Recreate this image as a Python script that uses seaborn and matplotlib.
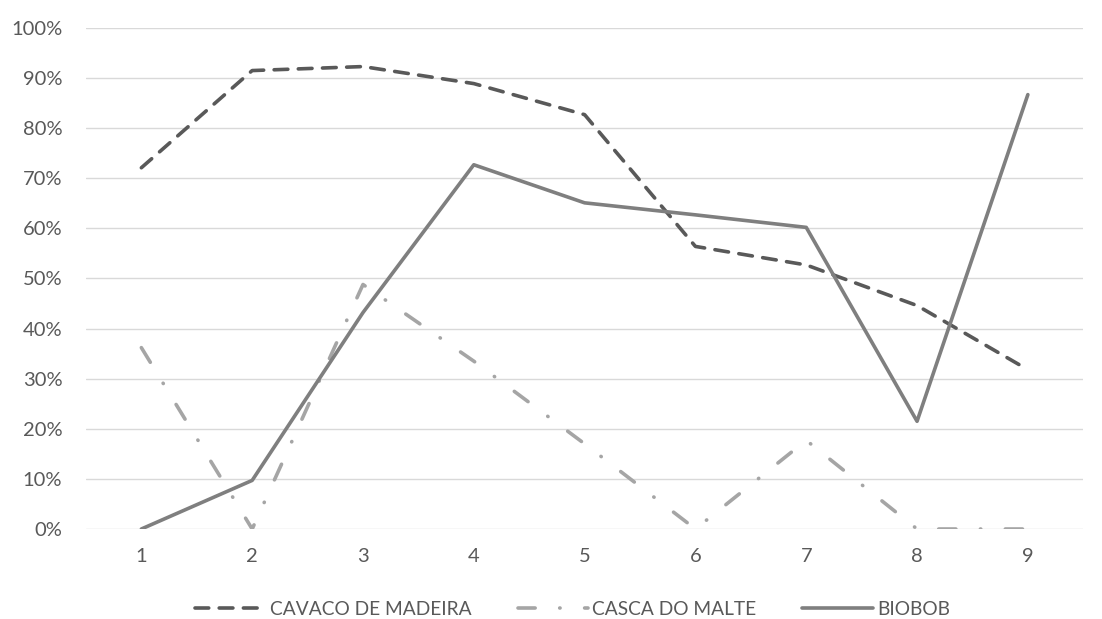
import pandas as pd
import matplotlib
matplotlib.use('Agg')
import seaborn as sns
from matplotlib import pyplot as plt
from matplotlib.ticker import PercentFormatter

amostra = [1, 2, 3, 4, 5, 6, 7, 8, 9]
cavaco = [72.1, 91.5, 92.3, 88.9, 82.7, 56.4, 52.7, 44.6, 31.8]
casca = [36.2, 0.0, 48.8, 33.5, 17.0, 0.0, 17.7, 0.0, 0.0]
biobob = [0.0, 9.7, 43.2, 72.7, 65.1, 62.7, 60.2, 21.5, 86.7]

series = ['CAVACO DE MADEIRA', 'CASCA DO MALTE', 'BIOBOB']
cores = {'CAVACO DE MADEIRA': '#595959', 'CASCA DO MALTE': '#A5A5A5', 'BIOBOB': '#7F7F7F'}
tracos = {'CAVACO DE MADEIRA': (3.8, 2.9), 'CASCA DO MALTE': (4.75, 6.8, 0.1, 6.8), 'BIOBOB': ''}

pd_data = pd.concat([
    pd.DataFrame({'x': amostra, 'y': vals, 'serie': nome})
    for nome, vals in zip(series, [cavaco, casca, biobob])
])

sns.set_style("white")
plt.rcParams['font.family'] = ['Lato', 'DejaVu Sans']
fig = plt.figure(figsize=(11.02, 6.19), dpi=100)
axe = fig.add_axes([0.078, 0.1454, 0.905, 0.8094])

sns.lineplot(data=pd_data, x='x', y='y', hue='serie', style='serie',
             hue_order=series, style_order=series,
             palette=cores, dashes=tracos, linewidth=2.6,
             dash_capstyle='round', ax=axe)

axe.set_xlim(0.5, 9.5)
axe.set_ylim(0, 100)
axe.set_xticks(amostra)
axe.set_yticks(range(0, 101, 10))
axe.yaxis.set_major_formatter(PercentFormatter(decimals=0))
axe.grid(axis='y', color='#D9D9D9', linewidth=1)
axe.set_axisbelow(True)
for s in axe.spines.values():
    s.set_visible(False)
axe.tick_params(axis='both', length=0, labelsize=14.5, labelcolor='#595959')
axe.tick_params(axis='y', pad=17)
axe.tick_params(axis='x', pad=14)
axe.set_xlabel('')
axe.set_ylabel('')

# legenda embaixo, sem moldura
sns.move_legend(axe, 'center', bbox_to_anchor=(0.488, -0.16), ncol=3,
                frameon=False, title=None, fontsize=13.8,
                handlelength=3.7, handletextpad=0.2, columnspacing=2.4)
for t in axe.get_legend().get_texts():
    t.set_color('#595959')

plt.savefig('out.png', dpi=100)
